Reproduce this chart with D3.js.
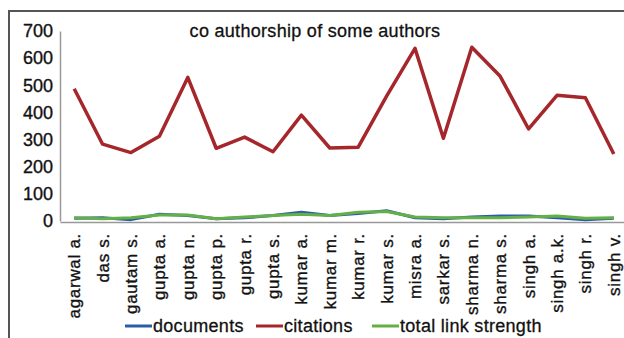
<!DOCTYPE html>
<html>
<head>
<meta charset="utf-8">
<script src="https://cdn.jsdelivr.net/npm/d3@7"></script>
<style>
  body { margin: 0; background: #fff; }
  svg { display: block; font-family: "Liberation Sans", Arial, sans-serif; }
</style>
</head>
<body>
<svg width="624" height="338"></svg>
<script>
// co authorship line chart

var authors = ["agarwal a.", "das s.", "gautam s.", "gupta a.", "gupta n.", "gupta p.",
               "gupta r.", "gupta s.", "kumar a.", "kumar m.", "kumar r.", "kumar s.",
               "misra a.", "sarkar s.", "sharma n.", "sharma s.", "singh a.", "singh a.k.",
               "singh r.", "singh v."];

var documents = [10, 12, 5, 25, 20, 8, 12, 20, 32, 20, 28, 38, 12, 8, 15, 18, 18, 12, 5, 10];
var citations = [487, 283, 252, 312, 529, 268, 309, 255, 390, 269, 272, 460, 636, 305, 640, 533, 339, 463, 454, 247];
var linkStrength = [12, 8, 12, 22, 22, 8, 15, 20, 25, 20, 32, 35, 15, 12, 12, 12, 15, 18, 10, 12];

var yTicks = [0, 100, 200, 300, 400, 500, 600, 700];

var series = [
    { name: "documents", values: documents, color: "#2b5ca8", width: 3 },
    { name: "citations", values: citations, color: "#a5272b", width: 3.5 },
    { name: "total link strength", values: linkStrength, color: "#62b046", width: 3 }
];

var svg = d3.select("svg");

// outer frame (right and bottom edges fall outside the picture)
svg.append("rect")
   .attr("x", 9).attr("y", 11)
   .attr("width", 700).attr("height", 400)
   .attr("fill", "none")
   .attr("stroke", "#555")
   .attr("stroke-width", 2);

var plotLeft = 60, plotRight = 628, plotTop = 31, plotBottom = 221;

var xScale = d3.scaleBand().domain(authors).range([plotLeft, plotRight]);
var yScale = d3.scaleLinear().domain([0, 700]).range([plotBottom, plotTop]);

// y axis
var yAxis = d3.axisLeft(yScale).tickValues(yTicks).tickSize(0).tickPadding(7);
var gy = svg.append("g")
            .attr("transform", "translate(" + plotLeft + ",0)")
            .call(yAxis);
gy.select(".domain").attr("stroke", "#999").attr("stroke-width", 1.5);
gy.selectAll("text")
  .attr("font-size", "18px")
  .attr("fill", "#111")
  .attr("stroke", "#111")
  .attr("stroke-width", 0.35)
  .attr("font-family", "Liberation Sans, Arial, sans-serif");

// x axis
var xAxis = d3.axisBottom(xScale).tickSize(0).tickPadding(0);
var gx = svg.append("g")
            .attr("transform", "translate(0," + (plotBottom + 1) + ")")
            .call(xAxis);
gx.select(".domain").attr("stroke", "#999").attr("stroke-width", 1.5);
gx.selectAll("text")
  .attr("font-size", "17px")
  .attr("letter-spacing", "0.7px")
  .attr("fill", "#111")
  .attr("stroke", "#111")
  .attr("stroke-width", 0.35)
  .attr("font-family", "Liberation Sans, Arial, sans-serif")
  .attr("text-anchor", "end")
  .attr("dy", "0.35em")
  .attr("transform", "translate(0,11) rotate(-90)");

// lines
var line = d3.line()
    .x(function(d, i) { return xScale(authors[i]) + xScale.bandwidth() / 2; })
    .y(function(d) { return yScale(d); });

series.forEach(function(s) {
    svg.append("path")
       .datum(s.values)
       .attr("fill", "none")
       .attr("stroke", s.color)
       .attr("stroke-width", s.width)
       .attr("stroke-linejoin", "round")
       .attr("d", line);
});

// title
svg.append("text")
   .attr("x", 315)
   .attr("y", 37)
   .attr("text-anchor", "middle")
   .attr("font-size", "18px")
   .attr("letter-spacing", "0.3px")
   .attr("fill", "#111")
   .attr("stroke", "#111")
   .attr("stroke-width", 0.3)
   .text("co authorship of some authors");

// legend
var legendX = [125, 256, 372];
var legend = svg.selectAll(".legend")
    .data(series)
    .enter().append("g")
    .attr("class", "legend")
    .attr("transform", function(d, i) { return "translate(" + legendX[i] + ",326)"; });

legend.append("line")
      .attr("x1", 0).attr("x2", 27)
      .attr("stroke", function(d) { return d.color; })
      .attr("stroke-width", 3);

legend.append("text")
      .attr("x", 28)
      .attr("y", 6)
      .attr("font-size", "18px")
      .attr("letter-spacing", "0.3px")
      .attr("fill", "#111")
      .attr("stroke", "#111")
      .attr("stroke-width", 0.3)
      .text(function(d) { return d.name; });
</script>
</body>
</html>
